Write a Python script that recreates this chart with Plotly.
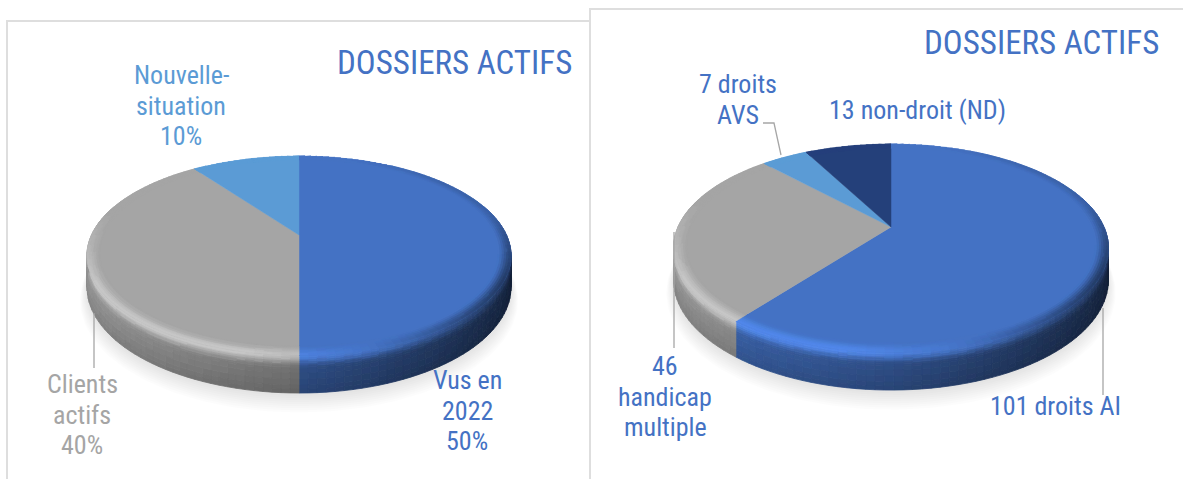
import math
import numpy as np
import plotly.graph_objects as go

# ---------- data ----------
left_categories = ["Vus en 2022", "Clients actifs", "Nouvelle-situation"]
left_values = [50, 40, 10]
left_kinds = ["blue", "grey", "light"]

right_categories = ["101 droits AI", "46 handicap multiple", "7 droits AVS", "13 non-droit (ND)"]
right_values = [101, 46, 7, 13]
right_kinds = ["blue", "grey", "light", "navy"]

title_text = "DOSSIERS ACTIFS"

# ---------- styles ----------
COL = {"blue": (68, 114, 196), "grey": (165, 165, 165), "light": (91, 155, 213), "navy": (36, 64, 122)}
TXT = {"blue": "#4472c4", "grey": "#a5a5a5", "light": "#5b9bd5"}
FONT = "Roboto Condensed, Liberation Sans Narrow, Arial Narrow, Roboto"
BORDER = "#dedede"
W, H = 1183, 479

# geometry of each tilted disc (pixel frame of the hidden axes)
LEFT_GEO = dict(cx=299, cy=235, ax=207.5, by=95.3, k=0.206, depth=38)
RIGHT_GEO = dict(cx=891, cy=227, ax=213, by=99.8, k=0.202, depth=38)

fig = go.Figure()


def proj(g, theta, r=1.0, dy=0.0):
    u, v = r * np.sin(theta), r * np.cos(theta)
    d = 1 + g["k"] * v
    scale = (1 - g["k"]) / d
    return g["cx"] + g["ax"] * u / d, g["cy"] - g["by"] * v / d + dy * scale


def smooth(a, b, x):
    t = np.clip((x - a) / (b - a), 0, 1)
    return t * t * (3 - 2 * t)


def side_shade(u):
    return 0.68 - 0.24 * u if u < 0 else 0.68 - 0.38 * u


def rim_gain(u, v):
    front = float(np.clip((0.25 - v) / 0.7, 0, 1))
    hi = 1 + 0.2 * (1 if u < -0.25 else math.exp(-((u + 0.25) / 0.4) ** 2))
    dark = 1 - 0.5 * smooth(0.15, 1.0, u) * (0.3 + 0.7 * front)
    return (1 + (hi - 1) * front) * dark


def shaded(base, gain):
    return tuple(min(255, int(round(c * gain / 3) * 3)) for c in base)


def add_buckets(buckets):
    for c, (xs, ys) in buckets.items():
        col = "rgb(%d,%d,%d)" % c
        fig.add_trace(go.Scatter(x=xs, y=ys, mode="lines", fill="toself", fillcolor=col,
                                 line=dict(color=col, width=0.8), hoverinfo="skip", showlegend=False))


def quad(buckets, color, pts):
    xs, ys = buckets.setdefault(color, ([], []))
    for x, y in pts + pts[:1]:
        xs.append(float(x)); ys.append(float(y))
    xs.append(None); ys.append(None)


def draw_pie(g, values, kinds):
    fracs = np.cumsum([0] + list(values)) / sum(values) * 2 * math.pi
    # soft shadow
    t = np.linspace(0, 2 * math.pi, 200)
    for i in range(9):
        x, y = proj(g, t, 1.0 + 0.004 * i, g["depth"] + 3 + 1.4 * i)
        fig.add_trace(go.Scatter(x=x, y=y, mode="lines", fill="toself", fillcolor="rgba(0,0,0,0.011)",
                                 line=dict(width=0), hoverinfo="skip", showlegend=False))
    D = g["depth"]
    side = {}
    bevel = {}
    for i, kind in enumerate(kinds):
        a0, a1 = fracs[i], fracs[i + 1]
        n = max(2, int((a1 - a0) / math.radians(2)))
        th = np.linspace(a0, a1, n + 1)
        base = COL[kind]
        for j in range(n):
            t0, t1 = th[j], th[j + 1]
            m = (t0 + t1) / 2
            u, v = math.sin(m), math.cos(m)
            if v < 0.3:
                s, rg = side_shade(u), rim_gain(u, v)
                levels = [0, 2, 4, 6, 8, 10, 12, 14, 18, 24, 30, 34, D]
                for a, b in zip(levels[:-1], levels[1:]):
                    mid = (a + b) / 2
                    if mid < 13:
                        gain = rg + (s - rg) * smooth(0, 13, mid)
                    else:
                        gain = s * (1 - 0.12 * (mid - 13) / (D - 13))
                    x0, y0 = proj(g, t0, 1, a); x1, y1 = proj(g, t1, 1, a)
                    x2, y2 = proj(g, t1, 1, b); x3, y3 = proj(g, t0, 1, b)
                    quad(side, shaded(base, gain), [(x0, y0), (x1, y1), (x2, y2), (x3, y3)])
            rg = rim_gain(u, v)
            rad = [0.94, 0.95, 0.96, 0.97, 0.98, 0.99, 1.0]
            for a, b in zip(rad[:-1], rad[1:]):
                gain = 1 + (rg - 1) * smooth(0.94, 1.0, (a + b) / 2)
                x0, y0 = proj(g, t0, a); x1, y1 = proj(g, t1, a)
                x2, y2 = proj(g, t1, b); x3, y3 = proj(g, t0, b)
                quad(bevel, shaded(base, gain), [(x0, y0), (x1, y1), (x2, y2), (x3, y3)])
    add_buckets(side)
    for i, kind in enumerate(kinds):
        th = np.linspace(fracs[i], fracs[i + 1], 120)
        x, y = proj(g, th)
        col = "rgb(%d,%d,%d)" % COL[kind]
        fig.add_trace(go.Scatter(x=[g["cx"]] + list(x) + [g["cx"]], y=[g["cy"]] + list(y) + [g["cy"]],
                                 mode="lines", fill="toself", fillcolor=col, line=dict(color=col, width=0.5),
                                 hoverinfo="skip", showlegend=False))
    add_buckets(bevel)


draw_pie(LEFT_GEO, left_values, left_kinds)
draw_pie(RIGHT_GEO, right_values, right_kinds)

# ---------- label placement ----------
LINE = 30.5
labels = [
    (["Nouvelle-", "situation", "10%"], 181, 75, "light"),
    (["Clients", "actifs", "40%"], 82, 384, "grey"),
    (["Vus en", "2022", "50%"], 467, 380, "blue"),
    (["7 droits", "AVS"], 738, 84, "blue"),
    (["13 non-droit (ND)"], 917, 110, "blue"),
    (["46", "handicap", "multiple"], 665, 366, "blue"),
    (["101 droits AI"], 1055, 406, "blue"),
]
anns = []
for lines, x, y, col in labels:
    for i, s in enumerate(lines):
        anns.append(dict(x=x, y=y + i * LINE, text=s, showarrow=False, xref="x", yref="y",
                         font=dict(family=FONT, size=26, color=TXT[col]),
                         xanchor="center", yanchor="middle"))
for x, y in [(454, 62), (1041, 42)]:
    anns.append(dict(x=x, y=y, text=title_text, showarrow=False, xref="x", yref="y",
                     font=dict(family=FONT, size=33, color=TXT["blue"]),
                     xanchor="center", yanchor="middle"))

# leader lines and panel frames
leaders = [
    [(94, 313), (94, 368)],
    [(763, 123), (774, 123), (781, 155)],
    [(674, 232), (674, 348)],
    [(1103, 308), (1103, 395)],
]
shapes = []
for pts in leaders:
    path = "M " + " L ".join("%g,%g" % p for p in pts)
    shapes.append(dict(type="path", path=path, xref="x", yref="y", line=dict(color="#a6a6a6", width=1.3)))
frames = ["M 7,479 L 7,21 L 590,21", "M 590,479 L 590,9 L 1183,9"]
for p in frames:
    shapes.append(dict(type="path", path=p, xref="x", yref="y", line=dict(color=BORDER, width=2)))

fig.update_layout(
    width=W, height=H, margin=dict(l=0, r=0, t=0, b=0), showlegend=False,
    paper_bgcolor="white", plot_bgcolor="white",
    xaxis=dict(range=[0, W], visible=False, fixedrange=True),
    yaxis=dict(range=[H, 0], visible=False, fixedrange=True),
    annotations=anns, shapes=shapes,
)
fig.write_html("out.html", config={"displayModeBar": False},
               post_script="document.body.style.margin='0';")
